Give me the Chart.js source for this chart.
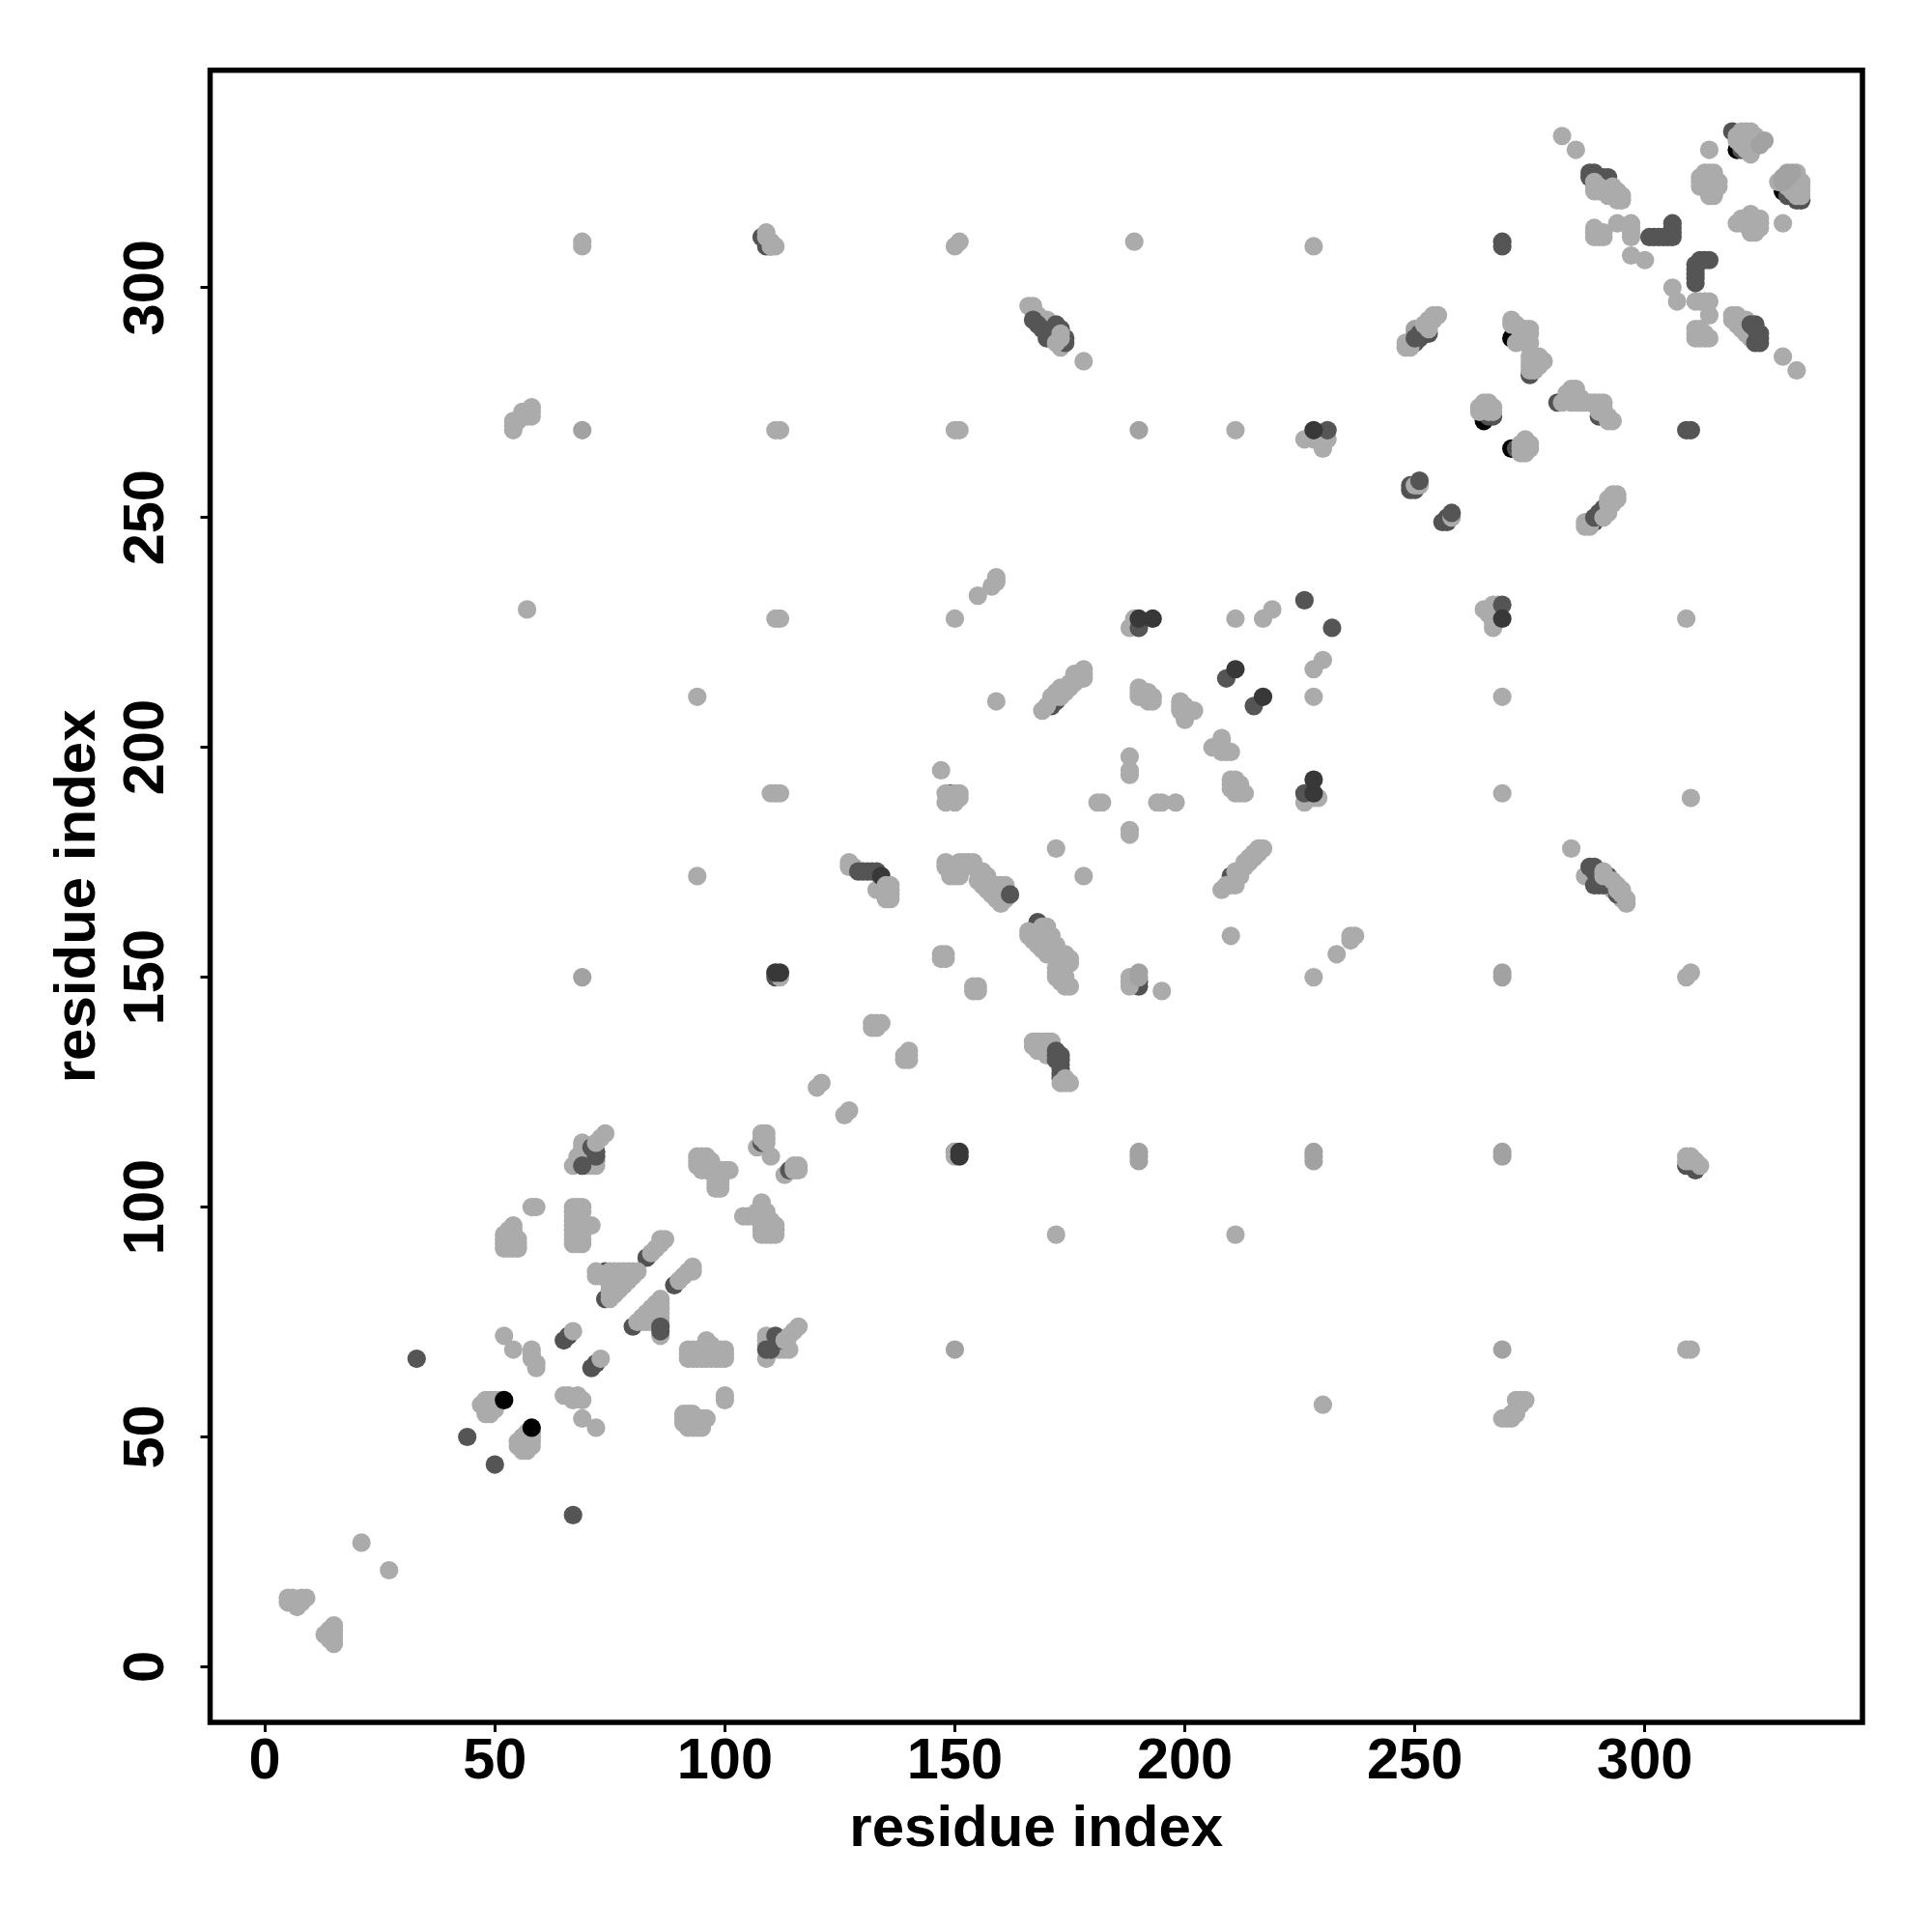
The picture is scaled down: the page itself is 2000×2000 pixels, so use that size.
<!DOCTYPE html>
<html>
<head>
<meta charset="utf-8">
<title>residue contacts</title>
<script src="https://cdn.jsdelivr.net/npm/chart.js@4/dist/chart.umd.min.js"></script>
<style>
  html, body { margin: 0; padding: 0; background: #fff; }
  canvas { display: block; }
</style>
</head>
<body>
<canvas id="chart" width="2000" height="2000"></canvas>
<script>
const tickValues = [0, 50, 100, 150, 200, 250, 300];
const axisLabel = 'residue index';

// contacts, [i, j], grouped by grey level and draw layer
const blackUnder = [[271,265],[265,271],[271,289],[320,330],[330,321]];
const darkUnder = [
  [69,110],[74,86],[74,80],[83,89],[89,83],[80,74],
  [65,71],[66,72],[71,65],[72,66],
  [168,162],[171,209],[172,210],[171,210],[210,171],[210,172],[211,172],
  [108,311],[109,310],[109,309],[110,309],[309,109],[310,109],[311,108],
  [249,288],[250,288],[251,289],[252,290],[253,290],
  [288,249],[289,249],[290,250],[291,251],[292,252],
  [249,256],[250,256],[249,257],[256,249],[257,249],[257,250],
  [272,265],[266,272],[267,272],[275,281],[281,275],[290,272],[189,149],[190,149],[190,148],
  [149,190],[319,334],[320,333],[321,330],[334,319],[333,319],[331,320],[111,150],[150,112]
];
const lightA = [
  [5,15],[5,14],[6,14],[6,15],[7,13],[7,14],[8,14],[8,15],[9,15],
  [13,7],[14,7],[14,8],[14,6],[15,5],[15,6],[15,7],[15,8],[15,9],[21,27],[27,21],
  [47,57],[48,58],[49,58],[50,58],[51,58],[48,56],[49,55],[49,56],[50,56],[50,57],[48,55],[49,57],
  [55,48],[55,49],[56,47],[56,48],[56,49],[56,50],[57,47],[57,48],[57,49],[57,50],[58,48],[58,49],[58,50],[58,51],[57,51],
  [52,72],[54,69],[58,69],[58,68],[58,67],[59,66],[59,65],[67,73],[73,67],
  [65,59],[66,59],[67,58],[68,59],[69,58],[69,54],[72,52],
  [52,92],[52,93],[52,94],[52,91],[53,91],[54,91],[55,91],[53,92],[53,94],[53,95],[54,95],[54,96],[55,92],[55,93],[54,93],[53,93],
  [91,53],[91,54],[91,55],[92,52],[92,53],[92,54],[92,55],[93,52],[93,55],[94,52],[94,53],[94,54],[95,52],[95,53],[95,54],[96,54],[93,53],
  [58,100],[59,100],[100,58],[100,59]
];
const lightB = [
  [67,92],[67,93],[67,94],[67,95],[67,96],[67,97],[67,98],[67,99],[67,100],
  [68,92],[68,93],[68,94],[68,95],[68,96],[68,97],[68,98],[68,99],[68,100],
  [69,92],[69,93],[69,94],[69,95],[69,99],[69,100],[70,96],[71,96],
  [92,67],[92,68],[92,69],[93,67],[93,68],[93,69],[94,67],[94,68],[94,69],[95,67],[95,68],[95,69],
  [96,67],[96,68],[96,69],[96,70],[96,71],[97,67],[97,68],[97,69],[97,70],[98,67],[98,68],[99,67],[99,68],[99,69],[100,67],[100,68],[100,69],
  [67,109],[72,109],[69,114],[69,113],[69,112],[69,111],[70,109],[71,109],[70,110],[71,110],[68,110],[68,111],[72,110],
  [109,67],[109,72],[109,71],[110,69],[110,71],[111,69],[112,69],[113,69],[114,69],[110,70],[111,70],[109,70],
  [72,86],[73,85],[72,85],
  [75,80],[75,81],[75,82],[75,83],[75,84],[75,85],[75,86],[76,81],[76,82],[76,83],[76,84],[76,85],[76,86],
  [77,82],[77,83],[77,84],[77,85],[77,86],[78,83],[78,84],[78,85],[78,86],[79,84],[79,85],[79,86],[80,85],[80,86],[81,86],
  [81,75],[82,75],[82,76],[83,75],[83,76],[83,77],[84,75],[84,76],[84,77],[84,78],
  [85,75],[85,76],[85,77],[85,78],[85,79],[86,75],[86,76],[86,77],[86,78],[86,79],[86,80],[86,72],
  [84,90],[85,91],[86,92],[87,93],[86,93],[90,84],[91,85],[92,86],[93,87],[93,86]
];
const lightC = [
  [107,113],[113,107],
  [94,109],[94,110],[94,111],[95,108],[95,109],[95,110],[95,111],[96,108],[96,109],[96,110],[96,111],[97,109],[97,110],
  [98,104],[98,105],[98,106],[98,107],[98,108],[99,104],[99,105],[99,106],[99,107],[99,108],[100,108],[101,108],
  [104,98],[105,98],[106,98],[107,98],[107,99],[108,94],[108,95],[108,96],[108,97],[108,98],[108,99],[108,100],[108,101],
  [109,94],[109,95],[109,96],[109,97],[109,98],[109,99],[110,94],[110,95],[110,96],[110,97],[111,94],[111,95],[111,96],
  [120,126],[121,127],[126,120],[127,121],
  [132,139],[132,140],[133,139],[133,140],[134,140],[139,132],[139,133],[140,132],[140,133],[140,134],
  [127,174],[127,175],[128,174],[133,169],[134,170],[135,167],
  [147,154],[147,155],[148,154],[148,155],[154,147],[154,148],[155,147],[155,148],
  [148,174],[148,175],[149,173],[149,172],[150,172],[150,173],[151,172],[151,174],[151,175],[152,174],[152,175],[153,175],[154,174],[154,175],
  [155,173],[155,171],[156,170],[156,171],[156,172],[156,173],[157,169],[157,170],[157,171],[157,172],[158,168],[158,169],[158,170],
  [159,167],[159,168],[159,169],[159,170],[160,166],[160,167],[160,168],[160,169],[160,170],[161,167],[161,168],[161,169],[161,170],
  [166,159],[166,160],[167,158],[167,159],[168,157],[168,158],[168,159],[169,156],[169,160],[169,161],[170,155],[170,160],[170,161],
  [171,158],[171,159],[172,156],[172,157],[173,155],[174,153],[174,154],[174,155],[175,153],[175,154],
  [173,152],[172,150],[172,151],[172,152],[173,150],[173,149],[174,150],[174,148],[175,148]
];
const lightD = [
  [167,135],[167,136],[168,134],[168,135],[168,136],[169,134],[169,135],[169,136],[170,133],[170,134],[170,135],[170,136],[171,136],[171,135],
  [188,181],[188,182],[181,188],[182,188],[194,188],[195,188],[198,188],[188,194],[188,195],[188,198],[172,178],[178,172],
  [188,148],[188,149],[188,150],[195,147],[148,188],[149,189],[150,188],[150,189],[150,190],[151,189],[151,190],[147,195],
  [169,208],[170,209],[171,211],[172,211],[172,212],[173,211],[173,212],[173,213],[174,212],[174,213],[175,213],[175,214],[176,214],[176,215],[176,216],[177,215],[177,216],[178,215],[178,216],[178,217],
  [208,169],[209,170],[210,170],[211,170],[211,171],[212,172],[211,173],[212,173],[213,174],[213,175],[214,175],[214,176],[215,176],[215,177],[216,177],[216,178],[217,178],
  [190,211],[190,212],[190,213],[191,211],[191,212],[192,210],[192,211],[192,212],[193,210],[193,211],
  [199,208],[199,209],[199,210],[200,206],[200,207],[200,209],[201,208],[202,208],
  [207,200],[206,200],[208,199],[208,200],[208,201],[208,202],[209,199],[210,199],
  [210,191],[210,192],[210,193],[211,190],[211,191],[211,192],[211,193],[212,190],[212,191],[212,192],[213,190],
  [188,226],[189,228],[226,188],[228,189],[227,189],[229,189],[211,228],[217,228],[219,230],[228,217],[230,219],[228,211],
  [155,233],[158,235],[159,236],[159,237],[233,155],[236,158],[236,159],[237,159],[159,210],[210,159],
  [54,269],[54,270],[54,271],[55,271],[56,272],[56,273],[57,272],[57,273],[58,272],[58,273],[58,274],
  [269,54],[270,54],[271,54],[271,55],[272,55],[272,56],[273,57],[272,58],[274,58],[273,58],[230,57],[57,230]
];
const lightE = [
  [166,296],[167,296],[167,295],[168,294],[169,293],[170,293],[171,292],[173,287],[178,284],
  [284,178],[287,172],[293,169],[295,167],
  [226,267],[228,267],[229,267],[229,268],[230,265],[230,266],[231,267],[267,226],[267,227],[267,228],[266,229],[265,230],[267,231],[268,231],[268,229],
  [248,287],[248,288],[249,287],[287,248],[288,248],[287,249],
  [251,257],[250,257],[258,250],
  [271,292],[271,293],[272,292],[272,288],[273,289],[273,290],[274,288],[274,289],[274,290],[274,291],[275,288],[275,290],[275,291],
  [275,282],[275,283],[275,284],[275,285],[276,282],[276,283],[276,284],[276,285],[277,283],[277,284],[277,285],[278,284],
  [282,275],[283,276],[283,277],[284,275],[284,276],[284,278],[285,275],[285,276],[285,277],[285,278],[286,275],[286,276],
  [287,275],[288,275],[289,275],[290,275],[291,275],[290,273],[291,273],[291,274],[292,271],[292,272],[293,271],
  [264,273],[264,274],[265,274],[265,275],[266,273],[266,274],[266,275],[267,273],[267,274],
  [273,264],[273,265],[273,266],[274,264],[274,265],[274,266],[274,267],[275,265],[275,266]
];
const lightF = [
  [282,333],[285,330],[289,321],[289,322],[290,321],[291,321],[292,320],[294,319],[295,319],[295,320],
  [289,311],[289,312],[289,313],[290,311],[290,312],[291,311],[291,312],
  [294,314],[297,314],[297,313],[297,312],[297,311],[297,307],[300,306],[306,300],[307,297],
  [311,297],[312,297],[313,297],[314,297],[314,294],
  [311,289],[311,290],[311,291],[312,289],[312,291],[313,289],[313,290],[314,289],
  [319,293],[319,294],[320,292],[320,293],[320,294],[321,291],[321,292],[321,293],[322,290],[322,291],[322,293],[323,289],[323,290],
  [330,285],[333,282],[314,330],
  [312,322],[312,323],[312,324],[313,322],[313,323],[313,324],[313,325],[314,320],[314,321],[314,322],[314,323],[314,324],[314,325],
  [315,320],[315,321],[315,322],[315,323],[315,324],[315,325],[316,322],[316,323],
  [320,314],[321,314],[321,315],[322,314],[322,315],[323,312],[323,313],[323,314],[323,315],[323,316],[324,312],[324,313],[324,314],[325,313],[325,314],[325,315],[330,314],
  [320,332],[320,333],[321,331],[321,332],[321,333],[321,334],[322,330],[322,331],[322,332],[322,333],[322,334],
  [323,329],[323,330],[323,331],[323,332],[323,333],[323,334],[324,331],[324,332],[324,333],
  [329,323],[331,322],[331,323],[332,321],[332,322],[332,323],[332,324],
  [333,320],[333,321],[333,322],[333,323],[333,324],[333,325],[334,320],[334,321],[334,322],[334,323]
];
const lightG = [
  [109,312],[109,311],[110,310],[110,309],[111,309],[150,309],[151,310],[111,269],[112,269],[150,269],[151,269],[111,228],[112,228],[150,228],
  [110,190],[111,190],[112,190],[94,211],[94,172],[211,94],[172,94],[211,269],[309,228],
  [309,110],[309,111],[310,110],[310,111],[311,110],[312,109],[228,309],[269,211],[269,190],[310,189],[189,310],[228,150],[309,150],[310,151],
  [148,190],[110,111],[111,151],[112,150],[150,111],[150,112],[309,69],[310,69],[69,309],[69,310]
];
const midGrey = [
  [69,150],[150,69],[69,269],[269,69],[190,269],[190,110],[190,111],[190,112],[228,110],[228,111],[228,112],[269,111],[269,112],
  [269,150],[269,151],[250,290],[250,291],[190,150],[190,151],
  [326,332],[325,331],[330,323],[330,324],[331,324],[331,325],[332,325]
];
const darkTop = [
  [44,50],[50,44],[33,67],[67,33],[162,168],[129,173],[130,173],[131,173],[132,173],[133,173],
  [69,109],[71,113],[72,111],[72,112],[108,114],[114,108],[86,74],[86,73],[109,69],[110,69],[111,72],[112,71],
  [168,292],[167,293],[169,291],[170,289],[171,290],[172,292],[173,291],[174,289],[174,288],
  [288,174],[289,174],[289,173],[290,172],[289,170],[290,170],[291,170],[292,172],[292,171],[293,170],[294,168],
  [250,289],[251,290],[252,291],[289,250],[290,251],[291,252],
  [172,134],[172,133],[173,133],[173,132],[173,131],[173,130],[173,129],[172,132],[173,128],
  [190,226],[226,190],[209,215],[215,209],[226,232],[232,226],[269,231],[251,258],[258,251],
  [269,310],[269,309],[309,269],[310,269],[288,325],[289,325],[288,324],[289,324],[291,324],[292,323],[292,324],
  [301,311],[302,311],[303,311],[304,311],[305,311],[306,311],[306,312],[306,313],[306,314],
  [311,301],[311,302],[311,303],[311,304],[311,305],[312,306],[313,306],[314,306],
  [323,292],[324,292],[324,291],[325,290],[325,289],[325,288],[324,288],[231,269]
];
const darkest = [
  [134,172],[112,151],[111,151],[151,112],[151,111],[190,228],[193,228],[228,193],[228,190],[228,269],[269,228],[211,217],[217,211]
];
const blackTop = [[52,58],[58,52]];
const lightTop = [
  [72,114],[73,115],[74,116],[113,71],[114,72],[115,73],[116,74],
  [108,115],[108,116],[109,114],[109,115],[109,116],[115,108],[115,109],[116,108],[116,109],
  [135,168],[135,169],[135,170],[136,167],[136,168],[136,169],[136,170],
  [173,127],[174,127],[174,128],[175,127],
  [172,288],[173,289],[173,290],[291,172],[291,173],[293,171],[294,169],[294,170],[295,168],[295,169],[296,166],[296,167],
  [253,291],[252,292],[253,292],[253,293],[254,293],[254,294],[255,294],
  [291,250],[292,251],[292,253],[292,254],[293,253],[293,254],[293,255],[294,254],[294,255],
  [289,323],[290,322],[293,320],[293,322],[294,321]
];

const toPoints = pairs => pairs.map(([x, y]) => ({ x, y }));

// lower order is painted last in chart.js
const layers = [
  { pts: blackTop, color: '#000000', order: 0 },
  { pts: lightTop, color: '#ababab', order: 1 },
  { pts: darkest, color: '#383838', order: 2 },
  { pts: darkTop, color: '#555555', order: 3 },
  { pts: midGrey, color: '#a2a2a2', order: 4 },
  { pts: [...lightA, ...lightB, ...lightC, ...lightD, ...lightE, ...lightF, ...lightG], color: '#ababab', order: 5 },
  { pts: darkUnder, color: '#525252', order: 6 },
  { pts: blackUnder, color: '#000000', order: 7 },
];

const framePlugin = {
  id: 'frame',
  afterDraw(chart) {
    const { ctx, chartArea: a } = chart;
    ctx.save();
    ctx.strokeStyle = '#000';
    ctx.lineWidth = 5.5;
    ctx.strokeRect(a.left, a.top, a.right - a.left, a.bottom - a.top);
    ctx.restore();
  },
};

const axisFont = { family: '"Liberation Sans"', weight: 'bold', size: 59.5 };
const titleFont = { family: '"Liberation Sans"', weight: 'bold', size: 60, lineHeight: 1 };

const axisCommon = {
  type: 'linear',
  max: 347.3,
  afterBuildTicks: scale => { scale.ticks = tickValues.map(value => ({ value })); },
  grid: { drawOnChartArea: false, drawTicks: true, tickLength: 10, tickWidth: 3, tickColor: '#000' },
  border: { display: false },
};

new Chart(document.getElementById('chart'), {
  type: 'scatter',
  data: {
    datasets: layers.map(l => ({
      data: toPoints(l.pts),
      order: l.order,
      backgroundColor: l.color,
      borderWidth: 0,
      pointRadius: 9.6,
      pointHoverRadius: 9.6,
    })),
  },
  plugins: [framePlugin],
  options: {
    responsive: false,
    animation: false,
    layout: { padding: { top: 72.7, right: 72, left: 0, bottom: 0 } },
    plugins: { legend: { display: false }, tooltip: { enabled: false } },
    scales: {
      x: {
        ...axisCommon,
        min: -11.9,
        afterFit: scale => { scale.height = 217; },
        ticks: { color: '#000', font: axisFont, padding: -4, maxRotation: 0, minRotation: 0, autoSkip: false },
        title: { display: true, text: axisLabel, color: '#000', font: titleFont, padding: { top: 0, bottom: 76 } },
      },
      y: {
        ...axisCommon,
        min: -12.1,
        afterFit: scale => { scale.width = 217.5; },
        ticks: { color: '#000', font: axisFont, padding: 5, minRotation: 90, maxRotation: 90, autoSkip: false, crossAlign: 'center' },
        title: { display: true, text: axisLabel, color: '#000', font: titleFont, padding: { top: 51, bottom: 0 } },
      },
    },
  },
});
</script>
</body>
</html>
